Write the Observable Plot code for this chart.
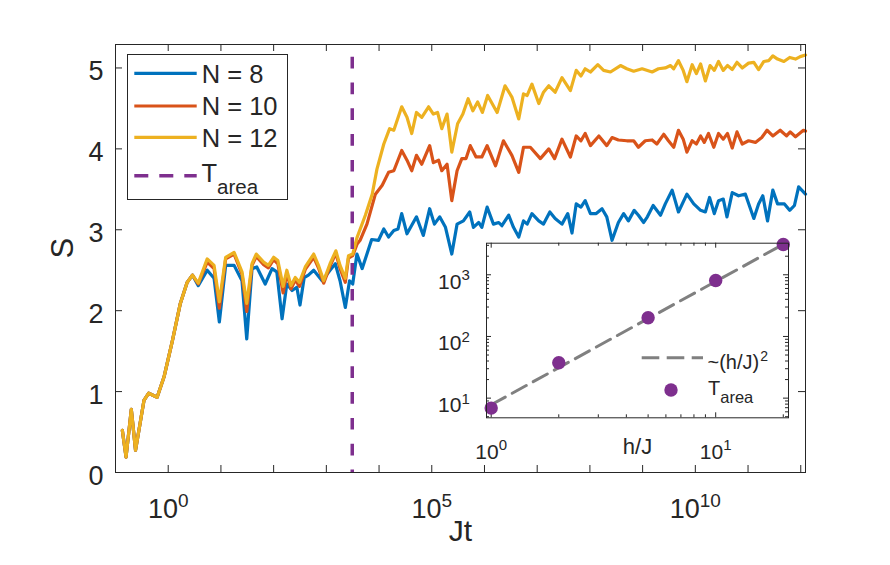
<!DOCTYPE html>
<html><head><meta charset="utf-8">
<script src="https://cdn.jsdelivr.net/npm/d3@7"></script>
<script src="https://cdn.jsdelivr.net/npm/@observablehq/plot@0.6"></script>
<style>
html,body{margin:0;padding:0;background:#fff;}
#wrap{position:relative;width:890px;height:565px;overflow:hidden;background:#fff;}
#wrap svg{position:absolute;}
</style></head><body><div id="wrap"></div>
<script>
const FONT = '"Liberation Sans", Arial, Helvetica, sans-serif';
const AX = "#262626";

// ---- main chart data: log10(Jt) and entropy S ----
const seriesNames = ["N = 8", "N = 10", "N = 12"];
const seriesColors = ["#0072BD", "#D95319", "#EDB120"];

const logJt8 = [-0.87,-0.80,-0.70,-0.62,-0.46,-0.37,-0.21,-0.08,0.08,0.23,0.36,0.46,
 0.57,0.74,0.87,0.97,1.09,1.25,1.40,1.49,1.59,1.68,1.84,1.97,2.06,2.16,2.25,2.35,2.44,2.50,2.58,2.66,
 2.76,2.92,3.07,3.17,3.26,3.36,3.44,3.50,3.58,3.68,3.86,3.99,4.09,4.18,4.28,4.36,4.43,4.53,4.71,4.84,
 4.96,5.05,5.15,5.26,5.38,5.48,5.60,5.72,5.79,5.89,5.95,6.05,6.17,6.27,6.33,6.46,6.55,6.65,6.74,6.81,
 6.90,7.03,7.12,7.24,7.34,7.47,7.58,7.66,7.74,7.83,7.91,8.01,8.12,8.23,8.32,8.42,8.54,8.64,8.73,8.84,
 8.92,9.02,9.09,9.20,9.34,9.43,9.56,9.68,9.84,9.97,10.10,10.19,10.27,10.36,10.44,10.53,10.60,10.70,10.82,10.95,
 11.11,11.20,11.28,11.37,11.47,11.56,11.69,11.79,11.88,11.96,12.09];
const S8 = [0.52,0.19,0.78,0.275,0.89,0.98,0.93,1.18,1.63,2.09,2.35,2.44,
 2.31,2.50,2.40,1.86,2.56,2.56,2.37,1.65,2.52,2.54,2.33,2.52,2.48,1.90,2.33,2.25,2.29,2.07,2.41,2.44,
 2.50,2.37,2.50,2.58,2.37,2.04,2.37,2.33,2.70,2.52,2.88,2.87,3.01,2.91,2.99,3.01,3.20,2.95,3.16,2.93,
 3.26,3.07,3.16,3.03,2.70,3.07,3.11,3.22,3.03,3.09,3.03,3.28,3.07,3.09,3.05,3.18,3.03,2.91,3.11,3.07,
 3.20,3.11,3.07,3.22,3.14,3.07,3.20,2.96,3.32,3.28,3.36,3.20,3.20,3.26,3.16,2.87,3.09,3.20,3.11,3.24,
 3.18,3.09,3.16,3.30,3.18,3.32,3.49,3.22,3.44,3.32,3.24,3.22,3.40,3.20,3.36,3.38,3.16,3.46,3.42,3.44,
 3.14,3.32,3.42,3.11,3.49,3.32,3.32,3.24,3.30,3.53,3.44];

const logJt10 = [-0.87,-0.80,-0.70,-0.62,-0.46,-0.37,-0.21,-0.08,0.08,0.23,0.36,0.46,
 0.57,0.74,0.87,0.97,1.09,1.25,1.40,1.49,1.59,1.67,1.81,1.90,2.00,2.08,2.18,2.25,2.33,2.41,2.49,2.60,
 2.76,2.85,2.95,3.07,3.18,3.26,3.36,3.42,3.50,3.58,
 3.64,3.77,3.93,4.06,4.18,4.28,4.43,4.53,4.62,4.71,4.81,4.96,5.03,5.13,5.19,5.29,5.38,5.48,5.57,5.65,
 5.73,5.84,5.95,6.05,6.21,6.36,6.52,6.65,6.74,6.87,7.06,7.22,7.33,7.47,7.63,7.74,7.83,7.91,8.01,8.17,
 8.32,8.42,8.54,8.70,8.83,8.92,9.05,9.18,9.27,9.40,9.49,9.59,9.68,9.77,9.84,9.94,10.02,10.10,10.17,10.25,
 10.35,10.44,10.53,10.61,10.70,10.79,10.89,11.01,11.14,11.26,11.36,11.47,11.61,11.73,11.80,11.90,12.05,12.09];
const S10 = [0.52,0.19,0.78,0.275,0.89,0.98,0.93,1.18,1.63,2.09,2.35,2.44,
 2.33,2.60,2.52,2.03,2.64,2.70,2.45,1.99,2.56,2.67,2.57,2.53,2.63,2.58,2.22,2.46,2.27,2.38,2.30,2.51,
 2.66,2.53,2.34,2.55,2.71,2.52,2.35,2.65,2.68,2.82,
 2.87,3.07,3.44,3.55,3.71,3.73,3.98,3.86,3.73,3.92,3.81,4.04,3.83,3.86,3.73,3.81,3.36,3.73,3.88,3.88,
 4.04,3.90,3.90,4.04,3.79,4.10,3.92,3.71,4.02,4.02,3.88,4.00,3.88,4.12,3.90,4.16,4.10,4.19,4.04,4.16,
 4.04,4.14,4.11,4.10,4.10,4.02,4.10,4.11,4.06,4.18,4.10,4.02,4.23,4.12,3.96,4.10,4.06,4.16,4.08,4.19,
 4.02,4.19,4.12,4.19,4.01,4.21,4.06,4.10,4.08,4.14,4.23,4.16,4.23,4.16,4.21,4.15,4.23,4.22];

const logJt12 = [-0.87,-0.80,-0.70,-0.62,-0.46,-0.37,-0.21,-0.08,0.08,0.23,0.36,0.46,
 0.57,0.74,0.87,0.97,1.09,1.25,1.40,1.49,1.59,1.67,1.81,1.90,2.00,2.08,2.18,2.25,2.33,2.41,2.49,2.60,
 2.76,2.85,2.95,3.07,3.18,3.26,3.36,3.42,3.50,3.58,
 3.74,3.87,3.96,4.09,4.20,4.28,4.43,4.53,4.62,4.71,4.81,4.94,5.03,5.11,5.19,5.29,5.38,5.49,5.59,5.69,
 5.78,5.87,5.96,6.06,6.24,6.39,6.52,6.65,6.74,6.81,6.90,7.03,7.12,7.22,7.34,7.47,7.63,7.74,7.83,7.91,
 8.01,8.15,8.26,8.39,8.58,8.70,8.83,8.99,9.18,9.30,9.43,9.53,9.59,9.68,9.77,9.84,9.94,10.02,10.10,10.19,
 10.28,10.36,10.44,10.53,10.61,10.70,10.79,10.89,11.01,11.11,11.20,11.30,11.39,11.47,11.56,11.68,11.79,11.90,11.99,12.09];
const S12 = [0.52,0.19,0.78,0.275,0.89,0.98,0.93,1.18,1.63,2.09,2.35,2.44,
 2.34,2.64,2.56,2.11,2.66,2.72,2.48,2.09,2.58,2.70,2.60,2.56,2.66,2.62,2.30,2.50,2.31,2.41,2.35,2.54,
 2.70,2.56,2.37,2.58,2.74,2.56,2.40,2.68,2.70,2.90,
 3.18,3.44,3.75,4.06,4.25,4.23,4.52,4.39,4.19,4.45,4.39,4.52,4.43,4.45,4.25,4.43,3.96,4.31,4.43,4.62,
 4.47,4.58,4.45,4.66,4.45,4.78,4.64,4.37,4.68,4.66,4.80,4.56,4.70,4.78,4.70,4.88,4.72,4.97,4.90,4.99,
 4.95,5.04,4.97,4.95,5.03,4.99,4.96,4.99,4.95,4.99,5.00,5.03,4.99,5.09,4.97,4.83,5.04,4.93,5.05,4.84,
 5.03,4.97,5.08,4.97,5.03,4.98,5.07,5.00,5.06,5.07,4.98,5.08,5.09,5.15,5.11,5.08,5.13,5.11,5.14,5.16];

const tAreaLine = [3100];   // T_area marker (Jt)
const areaLabel = "T";
const areaSub = "area";

// axis ticks
const xDecadeExp = [0,1,2,3,4,5,6,7,8,9,10,11,12];
const xLabelExp = [0, 5, 10];
const yTicks = [0, 1, 2, 3, 4, 5];

// ---- inset data ----
const hJ = [1, 2, 5, 10, 20];
const tArea = [6.9, 37.5, 201, 809, 3100];
const fitH = [1, 20];
const fitT = [7.8, 3120];
const insetXMajor = [1, 10];
const insetXMinor = [2, 3, 4, 5, 6, 7, 8, 9, 20];
const insetYMajor = [10, 100, 1000];
const insetYMinor = [5, 6, 7, 8, 9, 20, 30, 40, 50, 60, 70, 80, 90, 200, 300, 400, 500, 600, 700, 800, 900, 2000, 3000];
const fitLabel = "~(h/J)";
const fitSup = "2";

// ---- build ----
const mk = (le, s) => le.map((e, i) => ({t: 10 ** e, S: s[i]}));
const rows = [mk(logJt8, S8), mk(logJt10, S10), mk(logJt12, S12)];
const pow = (e) => "10^" + e;

const innerH = 565 - 44 - 93, innerW = 890 - 115 - 85, tl = 7;

const main = Plot.plot({
  width: 890, height: 565,
  marginLeft: 115, marginRight: 85, marginTop: 44, marginBottom: 93,
  style: {fontFamily: FONT, fontSize: "27px", color: AX, background: "transparent", overflow: "visible"},
  x: {type: "log", domain: [0.1, 10 ** 12.09]},
  y: {domain: [0, 5.29]},
  marks: [
    Plot.tickX(xDecadeExp.map(e => 10 ** e), {x: d => d, stroke: AX, insetTop: innerH - tl}),
    Plot.tickX(xDecadeExp.map(e => 10 ** e), {x: d => d, stroke: AX, insetBottom: innerH - tl}),
    Plot.tickY(yTicks, {y: d => d, stroke: AX, insetRight: innerW - tl}),
    Plot.tickY(yTicks, {y: d => d, stroke: AX, insetLeft: innerW - tl}),
    Plot.axisX(xLabelExp.map(e => 10 ** e), {tickSize: 0, tickPadding: 26, tickFormat: d => pow(Math.round(Math.log10(d))), label: null}),
    Plot.axisY(yTicks, {tickSize: 0, tickPadding: 12, dy: 3.5, tickFormat: d => String(d), label: null}),
    ...rows.map((r, i) => Plot.line(r, {x: "t", y: "S", stroke: seriesColors[i], strokeWidth: 3.2, strokeLinejoin: "round"})),
    Plot.ruleX(tAreaLine, {x: d => d, stroke: "#7E2F8E", strokeWidth: 3.5, strokeDasharray: "11.7,14.1", strokeDashoffset: 13.1}),
    Plot.frame({stroke: AX}),
    Plot.text(["S"], {frameAnchor: "left", dx: -52, rotate: -90, fontSize: 31, fill: AX}),
    Plot.text(["Jt"], {frameAnchor: "bottom", dy: 68, fontSize: 30, fill: AX})
  ]
});
main.style.left = "0px"; main.style.top = "0px";

function supify(svg, supSize, supDy) {
  d3.select(svg).selectAll("text").each(function () {
    const t = this.textContent;
    if (!t.includes("^")) return;
    const [b, e] = t.split("^");
    const s = d3.select(this); s.text(null);
    s.append("tspan").text(b);
    s.append("tspan").attr("font-size", supSize).attr("dy", supDy).text(e);
  });
}
supify(main, 19, -11);

// main legend
const lg = d3.select(main).append("g").attr("font-family", FONT).attr("fill", AX).attr("text-anchor", "start");
lg.append("rect").attr("x", 127.5).attr("y", 54.5).attr("width", 160).attr("height", 145)
  .attr("fill", "white").attr("stroke", AX).attr("stroke-width", 1);
const legYs = [73.3, 106, 137.3];
seriesNames.forEach((name, i) => {
  lg.append("line").attr("x1", 134.3).attr("x2", 196.7).attr("y1", legYs[i]).attr("y2", legYs[i])
    .attr("stroke", seriesColors[i]).attr("stroke-width", 3.2);
  lg.append("text").attr("x", 201.7).attr("y", legYs[i] + 9.3).attr("font-size", 25.5).attr("text-anchor", "start").text(name);
});
lg.append("line").attr("x1", 134.3).attr("x2", 196.7).attr("y1", 175.7).attr("y2", 175.7)
  .attr("stroke", "#7E2F8E").attr("stroke-width", 3.5).attr("stroke-dasharray", "14,11");
const tt = lg.append("text").attr("x", 201.5).attr("y", 181.7).attr("font-size", 25.5).attr("text-anchor", "start");
tt.append("tspan").text(areaLabel);
tt.append("tspan").attr("font-size", 20.5).attr("dy", 12.6).text(areaSub);

document.getElementById("wrap").appendChild(main);

// ---- inset ----
const iH = 230 - 12.7 - 42.7, iW = 380 - 66 - 12;
const mj = 5, mn = 3;
const inset = Plot.plot({
  width: 380, height: 230,
  marginLeft: 66, marginRight: 12, marginTop: 12.7, marginBottom: 42.7,
  style: {fontFamily: FONT, fontSize: "21px", color: AX, background: "transparent", overflow: "visible"},
  x: {type: "log", domain: [0.953, 21.1]},
  y: {type: "log", domain: [4.8, 3250]},
  marks: [
    Plot.frame({fill: "white", stroke: null}),
    Plot.tickX(insetXMajor, {x: d => d, stroke: AX, insetTop: iH - mj}),
    Plot.tickX(insetXMajor, {x: d => d, stroke: AX, insetBottom: iH - mj}),
    Plot.tickX(insetXMinor, {x: d => d, stroke: AX, insetTop: iH - mn}),
    Plot.tickX(insetXMinor, {x: d => d, stroke: AX, insetBottom: iH - mn}),
    Plot.tickY(insetYMajor, {y: d => d, stroke: AX, insetRight: iW - mj}),
    Plot.tickY(insetYMajor, {y: d => d, stroke: AX, insetLeft: iW - mj}),
    Plot.tickY(insetYMinor, {y: d => d, stroke: AX, insetRight: iW - mn}),
    Plot.tickY(insetYMinor, {y: d => d, stroke: AX, insetLeft: iW - mn}),
    Plot.axisX(insetXMajor, {tickSize: 0, tickPadding: 26, tickFormat: d => pow(Math.round(Math.log10(d))), label: null}),
    Plot.axisY(insetYMajor, {tickSize: 0, tickPadding: 16.7, dy: 7, tickFormat: d => pow(Math.round(Math.log10(d))), label: null}),
    Plot.line(fitH.map((h, i) => ({h, T: fitT[i]})), {x: "h", y: "T", stroke: "#808080", strokeWidth: 3, strokeDasharray: "16,8"}),
    Plot.dot(hJ.map((h, i) => ({h, T: tArea[i]})), {x: "h", y: "T", r: 6.7, fill: "#7E2F8E", stroke: null}),
    Plot.frame({stroke: AX}),
    Plot.text(["h/J"], {frameAnchor: "bottom", dy: 36, fontSize: 22, fill: AX})
  ]
});
inset.style.left = "420px"; inset.style.top = "230px";
supify(inset, 15, -8.3);

const il = d3.select(inset).append("g").attr("font-family", FONT).attr("fill", AX).attr("text-anchor", "start");
il.append("line").attr("x1", 221.7).attr("x2", 283).attr("y1", 127.7).attr("y2", 127.7)
  .attr("stroke", "#808080").attr("stroke-width", 3).attr("stroke-dasharray", "17.6,7.4");
const ft = il.append("text").attr("x", 287.5).attr("y", 139).attr("font-size", 20).attr("text-anchor", "start");
ft.append("tspan").text(fitLabel);
ft.append("tspan").attr("font-size", 14).attr("dy", -8).attr("dx", 1).text(fitSup);
il.append("circle").attr("cx", 251).attr("cy", 160).attr("r", 6.7).attr("fill", "#7E2F8E");
const at = il.append("text").attr("x", 288).attr("y", 165).attr("font-size", 20).attr("text-anchor", "start");
at.append("tspan").text(areaLabel);
at.append("tspan").attr("font-size", 16.5).attr("dy", 8.3).text(areaSub);

document.getElementById("wrap").appendChild(inset);
</script></body></html>
